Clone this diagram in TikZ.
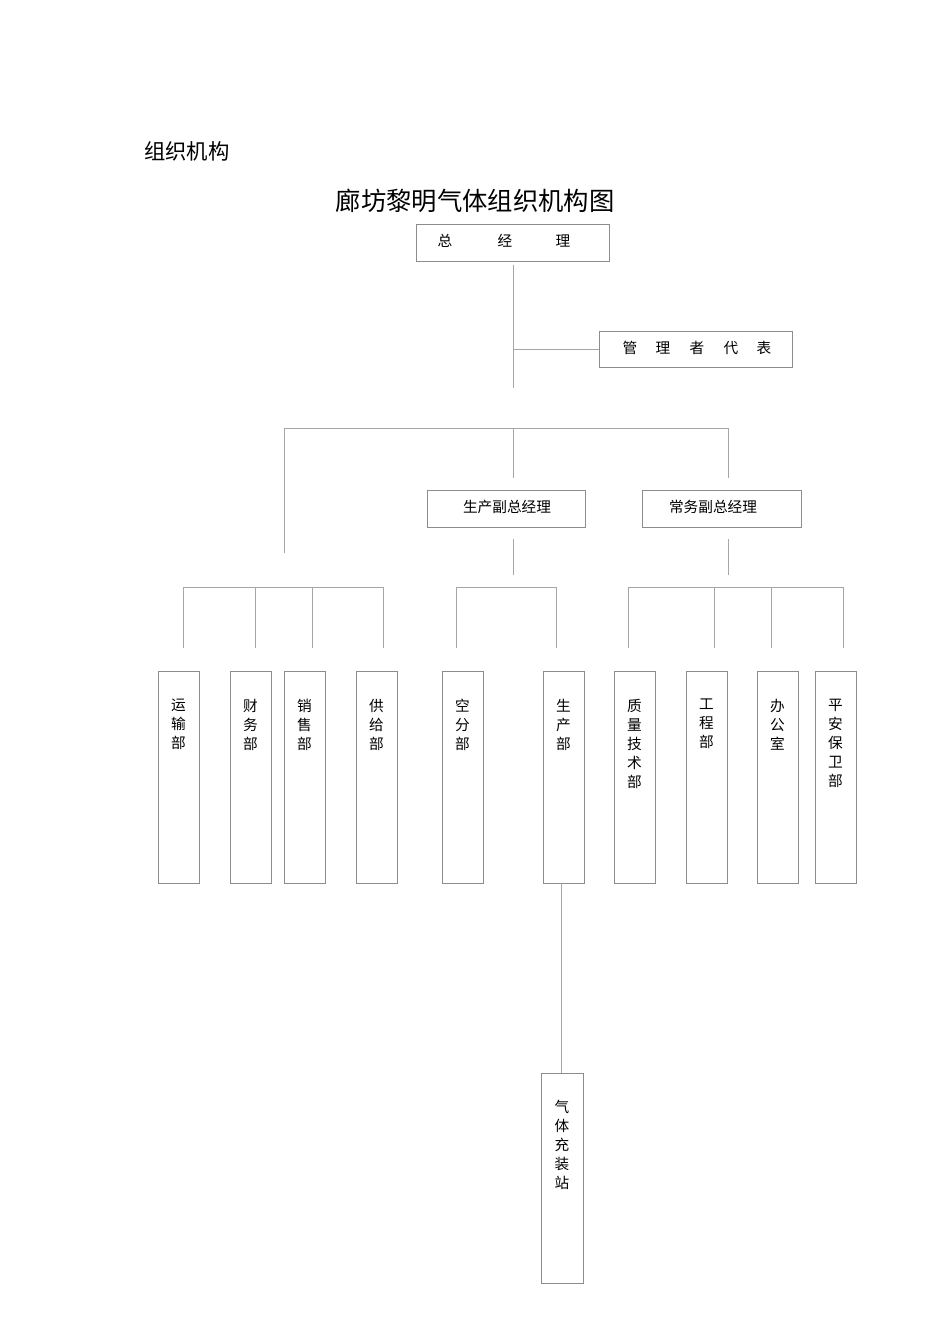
\documentclass[tikz,border=0pt]{standalone}
\usepackage{fontspec}
\setmainfont{Noto Sans CJK SC}
\begin{document}
\begin{tikzpicture}[x=0.75pt,y=-0.75pt,
  box/.style={draw=black!45,line width=0.6pt},
  ln/.style={draw=black!35,line width=0.6pt},
  lab/.style={font=\fontsize{11}{11}\selectfont,inner sep=0pt},
  vlab/.style={font=\fontsize{11}{14.2}\selectfont,inner sep=0pt,anchor=north,align=center}]
\useasboundingbox (0,0) rectangle (950,1344);
\node[anchor=west,font=\fontsize{16}{16}\selectfont,inner sep=0pt] (hd) at (144,151) {组织机构};
\node[font=\fontsize{19}{19}\selectfont,inner sep=0pt] (ttl) at (475,201) {廊坊黎明气体组织机构图};
% top boxes
\draw[box] (416,224) rectangle (609,261);
\foreach \x/\t in {445/总,505/经,563/理} \node[lab] at (\x,241) {\t};
\draw[box] (599,331) rectangle (792,367);
\foreach \x/\t in {630/管,663/理,697/者,731/代,764/表} \node[lab] at (\x,348) {\t};
\draw[box] (427,490) rectangle (585,527);
\node[lab] at (507,507) {生产副总经理};
\draw[box] (642,490) rectangle (801,527);
\node[lab] at (713,507) {常务副总经理};
% lines
\draw[ln] (513,265) -- (513,388);
\draw[ln] (513,349) -- (599,349);
\draw[ln] (284,553) -- (284,428) -- (728,428) -- (728,478);
\draw[ln] (513,428) -- (513,478);
\draw[ln] (513,539) -- (513,575);
\draw[ln] (728,539) -- (728,575);
\draw[ln] (183,648) -- (183,587) -- (383,587) -- (383,648);
\draw[ln] (255,587) -- (255,648); \draw[ln] (312,587) -- (312,648);
\draw[ln] (456,648) -- (456,587) -- (556,587) -- (556,648);
\draw[ln] (628,648) -- (628,587) -- (843,587) -- (843,648);
\draw[ln] (714,587) -- (714,648); \draw[ln] (771,587) -- (771,648);
% department boxes
\foreach \a/\b/\t in {158/199/{运\\输\\部},230/271/{财\\务\\部},284/325/{销\\售\\部},356/397/{供\\给\\部},442/483/{空\\分\\部},543/584/{生\\产\\部},614/655/{质\\量\\技\\术\\部},686/727/{工\\程\\部},757/798/{办\\公\\室},815/856/{平\\安\\保\\卫\\部}}{
  \draw[box] (\a,671) rectangle (\b,883);
  \node[vlab] at ({(\a+\b)/2},699) {\t};
}
\draw[ln] (561,883) -- (561,1073);
\draw[box] (541,1073) rectangle (583,1283);
\node[vlab] at (562,1100) {气\\体\\充\\装\\站};
\end{tikzpicture}
\end{document}
